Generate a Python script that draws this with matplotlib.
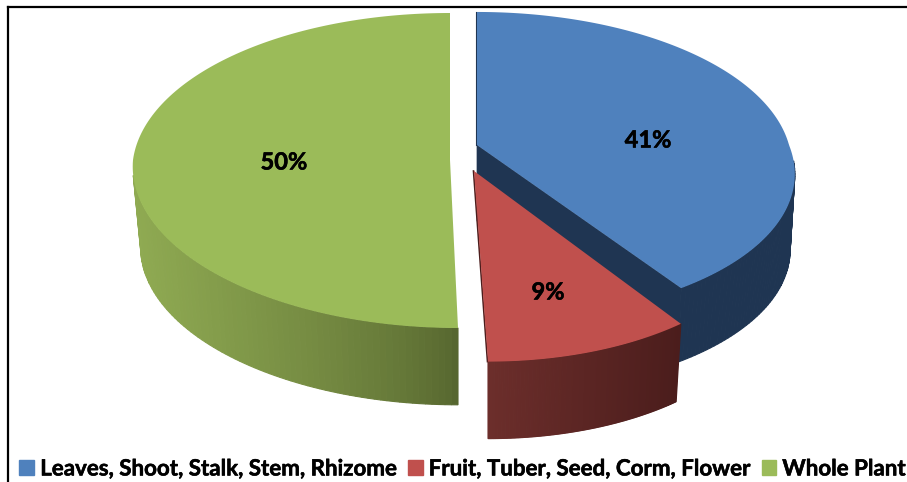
import numpy as np
import matplotlib
matplotlib.use('Agg')
import matplotlib.pyplot as plt
import matplotlib.patheffects as pe
from matplotlib.patches import Patch
from matplotlib.colors import to_rgb

# data
categories = ['Leaves, Shoot, Stalk, Stem, Rhizome', 'Fruit, Tuber, Seed, Corm, Flower', 'Whole Plant']
values = [41, 9, 50]

top_colors = ['#4F81BD', '#C0504D', '#9BBB59']
# wall colour at the right and the left end of each slice
wall_start = ['#1F3552', '#4B1D1C', '#56662F']
wall_end = ['#1F3552', '#6C2E2B', '#8FAA52']

# layout of each slice in pixels: apex x, apex y, rx, ry, perspective, shear, wall scale, wall depth
layout = [
    (477, 145, 312, 150.6, 0.132, 19, 0.985, 76),
    (474, 171, 285.6, 142, 0.255, 14, 0.976, 81.6),
    (450, 160, 317, 156.8, 0.0667, 8, 0.975, 81),
]
label_pos = [(648, 140), (548, 292), (284, 162)]


def project(theta, r, slc, wall=False):
    ax0, ay0, rx, ry, k, sx, s, d = slc
    u = r * np.sin(theta)
    v = r * np.cos(theta)
    w = 1 + k * v
    sc = s if wall else 1.0
    dy = d if wall else 0.0
    x = ax0 + sc * rx * u / w + sx * np.maximum(-v, 0)
    y = ay0 + dy - sc * ry * v / w
    return x, y


def draw_slice(ax, a0, a1, i):
    slc = layout[i]
    th = np.linspace(a0, a1, 161)
    c0 = np.array(to_rgb(wall_start[i]))
    c1 = np.array(to_rgb(wall_end[i]))

    xa, ya = project(a0 * 0, 0.0, slc)
    xb, yb = project(a1, 1.0, slc)
    xc, yc = project(a1, 1.0, slc, wall=True)
    xd, yd = project(a1, 0.0, slc, wall=True)
    # radial wall on the closing edge of the slice
    if i == 0:
        ax.fill([xa, xb, xc, xd], [ya, yb, yc, yd], color=wall_start[i], lw=0.5, zorder=1)
        x0, y0 = project(a0, 1.0, slc)
        ax.plot([xa - 1, x0 - 1], [ya, y0], color=wall_start[i], lw=0.8, zorder=1)
    if i == 1:
        ax.plot([xa - 0.5, xb - 0.5], [ya, yb], color='#4B1D1C', lw=1.2, zorder=3)

    # outer wall, cut in thin strips for the gradient
    keep = [j for j in range(len(th) - 1) if np.cos(th[j]) <= -0.1]
    xs_all = np.array([project(th[j], 1.0, slc)[0] for j in keep])
    for j, xm in zip(keep, xs_all):
        t = (xm - xs_all.max()) / (xs_all.min() - xs_all.max())
        if i == 0:
            t = 0.0
        if i == 2:
            t = t ** 0.75
        xt, yt = project(th[j:j + 2], 1.0, slc)
        xw, yw = project(th[j:j + 2], 1.0, slc, wall=True)
        col = c0 + (c1 - c0) * t
        ax.fill(np.r_[xt, xw[::-1]], np.r_[yt, yw[::-1]], facecolor=col, edgecolor=col,
                lw=0.8, zorder=2 + i)

    # top face
    xs, ys = project(th, 1.0, slc)
    ax.fill(np.r_[xa, xs], np.r_[ya, ys], color=top_colors[i], lw=0, zorder=3 + i)


fig = plt.figure(figsize=(9.07, 4.82), dpi=100)
ax = fig.add_axes([0, 0, 1, 1])
ax.set_xlim(0, 907)
ax.set_ylim(482, 0)
ax.axis('off')

# frame
ax.plot([8, 907], [7, 7], color='black', lw=1.6)
ax.plot([8, 8], [7, 482], color='black', lw=1.6)

ends = np.cumsum(values) / np.sum(values) * 2 * np.pi
starts = np.r_[0, ends[:-1]]
for i in [0, 2, 1]:
    draw_slice(ax, starts[i], ends[i], i)

stroke = [pe.withStroke(linewidth=0.4, foreground='black')]
for val, (lx, ly) in zip(values, label_pos):
    ax.text(lx, ly, f'{val}%', ha='center', va='center', fontsize=17,
            fontweight='bold', family='Lato', color='black', zorder=10, path_effects=stroke)

handles = [Patch(color=c, label=l) for c, l in zip(top_colors, categories)]
leg = ax.legend(handles=handles, ncol=3, loc='lower left', bbox_to_anchor=(0.0165, -0.004),
                frameon=False, handlelength=0.66, handleheight=0.66, handletextpad=0.27,
                columnspacing=0.44, borderpad=0.2, borderaxespad=0,
                prop={'family': 'Lato', 'weight': 'bold', 'size': 16.08})
for t in leg.get_texts():
    t.set_path_effects(stroke)

fig.savefig('out.png', dpi=100)
